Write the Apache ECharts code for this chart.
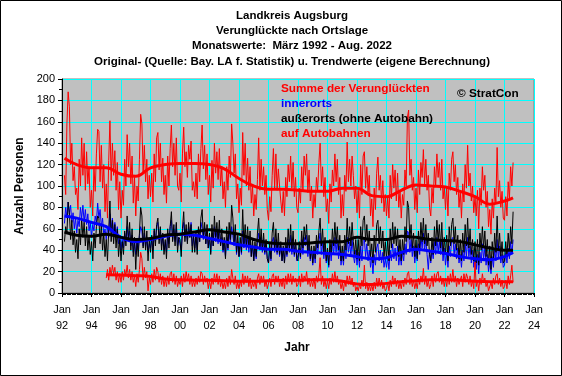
<!DOCTYPE html>
<html>
<head>
<meta charset="utf-8">
<script src="https://cdn.jsdelivr.net/npm/echarts@6/dist/echarts.min.js"></script>
<style>
  html, body { margin: 0; padding: 0; background: #fff; }
  #chart { width: 562px; height: 376px; }
</style>
</head>
<body>
<div id="chart"></div>
<script>
// Monatswerte ab März 1992 (Summe, innerorts, außerorts), Autobahn ab Jan. 1995
const startYear = 1992;
const startMonth = 2; // März
const autobahnStart = 1995;

const summe = [
  110, 92, 158, 188, 174, 120, 140, 105, 118, 92,
  98, 78, 125, 100, 145, 110, 140, 96, 132, 102, 118, 80,
  96, 72, 118, 95, 130, 153, 151, 104, 138, 98, 120, 76,
  102, 70, 124, 161, 105, 140, 110, 133, 96, 122, 78, 104,
  70, 96, 82, 125, 100, 148, 118, 140, 102, 128, 84, 108,
  72, 100, 86, 125, 167, 158, 112, 138, 104, 125, 88, 110,
  90, 112, 85, 130, 104, 145, 150, 115, 140, 104, 126, 92,
  110, 84, 128, 100, 135, 157, 118, 140, 110, 145, 100, 96,
  112, 85, 130, 155, 118, 132, 108, 138, 125, 142, 96, 104,
  90, 112, 88, 130, 104, 135, 157, 116, 138, 106, 130, 92,
  110, 85, 124, 98, 140, 112, 132, 106, 135, 100, 118, 88,
  104, 80, 118, 96, 128, 108, 158, 140, 112, 130, 88, 102,
  75, 98, 82, 150, 110, 140, 100, 126, 96, 118, 84, 100,
  72, 92, 78, 106, 145, 96, 125, 100, 118, 92, 110, 78,
  68, 90, 76, 110, 135, 98, 130, 96, 116, 100, 86, 75,
  95, 72, 108, 90, 120, 104, 128, 98, 122, 90, 108, 80,
  75, 98, 84, 118, 96, 128, 110, 130, 94, 115, 86, 100,
  70, 92, 80, 108, 96, 122, 140, 100, 118, 90, 108, 76,
  88, 65, 102, 85, 115, 100, 130, 104, 125, 92, 108, 70,
  92, 72, 110, 95, 141, 104, 125, 100, 128, 110, 88, 100,
  75, 96, 70, 120, 92, 128, 132, 98, 118, 94, 110, 72,
  88, 62, 98, 78, 112, 127, 96, 110, 84, 105, 76, 92,
  72, 90, 70, 110, 88, 120, 98, 115, 86, 112, 80, 96,
  70, 92, 82, 115, 100, 164, 171, 110, 125, 96, 108, 78,
  98, 75, 115, 92, 122, 108, 134, 102, 125, 96, 110, 80,
  72, 98, 84, 118, 100, 130, 108, 122, 96, 125, 88, 100,
  78, 100, 72, 112, 96, 125, 132, 104, 120, 92, 108, 80,
  96, 70, 102, 85, 120, 98, 138, 100, 112, 86, 100, 75,
  90, 72, 96, 60, 98, 82, 118, 96, 110, 80, 95, 62,
  78, 55, 88, 70, 98, 84, 136, 90, 105, 80, 95, 70,
  68, 90, 72, 104, 88, 118, 100, 122
];

const innerorts = [
  65, 80, 70, 85, 74, 82, 66, 75, 60, 70,
  56, 68, 62, 80, 70, 82, 66, 78, 64, 74, 58, 66,
  52, 64, 58, 72, 66, 84, 70, 78, 62, 70, 54, 60,
  50, 62, 52, 74, 60, 70, 56, 66, 52, 62, 46, 54,
  40, 50, 42, 56, 48, 62, 50, 58, 44, 54, 38, 48,
  36, 48, 40, 54, 62, 58, 44, 56, 42, 52, 38, 46,
  42, 52, 40, 58, 48, 62, 66, 50, 60, 44, 54, 40,
  48, 38, 56, 46, 62, 68, 50, 60, 48, 64, 44, 52,
  46, 40, 58, 66, 52, 60, 48, 62, 52, 66, 44, 54,
  42, 54, 40, 60, 48, 66, 60, 50, 62, 46, 58, 42,
  50, 38, 56, 44, 62, 48, 58, 46, 60, 44, 52, 38,
  46, 34, 52, 40, 58, 46, 62, 54, 44, 56, 36, 48,
  34, 46, 36, 58, 42, 54, 40, 52, 38, 50, 34, 44,
  30, 42, 32, 48, 56, 40, 52, 38, 50, 36, 46, 32,
  28, 40, 30, 48, 52, 38, 50, 36, 48, 34, 44, 30,
  40, 28, 44, 34, 50, 38, 54, 36, 50, 34, 46, 30,
  30, 42, 32, 50, 36, 52, 44, 54, 34, 46, 30, 40,
  26, 38, 28, 46, 36, 48, 56, 36, 48, 32, 44, 28,
  36, 24, 42, 30, 48, 36, 52, 38, 50, 32, 44, 26,
  36, 26, 44, 32, 52, 38, 48, 34, 50, 36, 28, 40,
  26, 38, 24, 44, 30, 48, 50, 34, 46, 30, 40, 24,
  34, 18, 36, 26, 42, 46, 30, 40, 28, 38, 24, 32,
  24, 34, 22, 40, 30, 46, 32, 42, 30, 44, 26, 36,
  26, 38, 30, 46, 36, 58, 56, 38, 50, 34, 44, 28,
  40, 30, 46, 36, 52, 42, 56, 40, 50, 36, 22, 40,
  28, 40, 32, 48, 36, 52, 38, 48, 36, 50, 30, 42,
  26, 38, 24, 44, 34, 50, 52, 36, 46, 32, 42, 28,
  36, 24, 40, 30, 46, 34, 52, 34, 44, 28, 40, 24,
  34, 22, 36, 18, 38, 28, 46, 32, 42, 26, 36, 20,
  30, 18, 34, 24, 42, 30, 50, 32, 44, 28, 36, 24,
  26, 38, 28, 42, 32, 48, 36, 50
];

const ausserorts = [
  48, 62, 55, 85, 75, 50, 68, 45, 58, 38,
  50, 32, 60, 45, 70, 52, 66, 44, 62, 40, 54, 36,
  48, 30, 56, 42, 62, 72, 70, 46, 64, 40, 56, 34,
  50, 30, 58, 86, 48, 68, 46, 64, 42, 60, 34, 50,
  30, 48, 36, 58, 44, 72, 50, 66, 40, 60, 34, 52,
  22, 50, 34, 56, 80, 72, 42, 62, 40, 58, 30, 50,
  38, 54, 32, 60, 44, 64, 70, 46, 62, 40, 56, 36,
  50, 32, 60, 42, 62, 76, 48, 64, 44, 66, 38, 52,
  50, 34, 60, 76, 48, 64, 46, 66, 52, 64, 38, 54,
  38, 56, 36, 62, 48, 70, 78, 52, 66, 46, 64, 42,
  56, 36, 64, 44, 72, 52, 66, 48, 68, 44, 60, 40,
  52, 32, 62, 42, 66, 50, 82, 70, 48, 64, 38, 54,
  34, 52, 38, 78, 46, 64, 44, 62, 42, 58, 34, 50,
  30, 48, 34, 56, 70, 42, 60, 40, 56, 38, 50, 32,
  28, 46, 32, 56, 66, 42, 60, 38, 56, 36, 48, 30,
  44, 28, 52, 36, 60, 42, 64, 40, 58, 36, 50, 32,
  30, 48, 34, 58, 42, 62, 50, 64, 38, 54, 32, 44,
  28, 44, 32, 54, 42, 58, 70, 44, 60, 38, 52, 30,
  42, 26, 50, 36, 60, 44, 66, 46, 62, 40, 54, 30,
  44, 30, 54, 40, 70, 46, 62, 44, 66, 48, 36, 50,
  32, 50, 30, 62, 44, 68, 72, 48, 64, 44, 58, 34,
  46, 28, 54, 38, 64, 68, 46, 62, 42, 58, 34, 48,
  32, 50, 30, 60, 42, 66, 46, 62, 44, 60, 34, 50,
  30, 50, 36, 62, 48, 86, 80, 50, 64, 42, 56, 34,
  50, 32, 58, 40, 66, 48, 70, 46, 64, 44, 56, 36,
  30, 52, 36, 62, 44, 68, 48, 64, 42, 66, 36, 52,
  36, 54, 30, 62, 44, 64, 70, 46, 62, 40, 54, 32,
  50, 30, 56, 38, 64, 44, 70, 42, 60, 36, 50, 30,
  48, 28, 50, 26, 56, 40, 62, 42, 58, 34, 50, 26,
  44, 22, 48, 32, 56, 38, 72, 40, 56, 34, 48, 28,
  30, 48, 34, 56, 40, 62, 46, 76
];

const autobahn = [
  14, 22, 12, 24, 16, 26, 18, 24, 12, 20, 10, 18,
  10, 20, 12, 22, 16, 26, 14, 22, 12, 20, 10, 16,
  6, 18, 10, 22, 38, 32, 12, 24, 14, 20, 2, 14,
  8, 18, 10, 22, 12, 24, 20, 10, 18, 8, 16, 6,
  14, 6, 16, 8, 18, 20, 10, 18, 8, 16, 6, 12,
  8, 16, 6, 18, 10, 20, 12, 18, 8, 16, 6, 12,
  6, 14, 8, 16, 10, 20, 18, 8, 16, 10, 14, 4,
  12, 4, 14, 8, 18, 10, 18, 8, 16, 6, 12, 4,
  10, 4, 14, 6, 16, 8, 22, 14, 8, 16, 4, 10,
  4, 12, 6, 18, 8, 16, 10, 16, 6, 14, 4, 10,
  6, 12, 4, 14, 18, 8, 16, 10, 16, 6, 12, 4,
  4, 14, 6, 16, 18, 8, 16, 10, 16, 6, 12, 6,
  14, 4, 16, 8, 18, 10, 18, 8, 16, 10, 14, 6,
  8, 16, 6, 18, 10, 16, 12, 20, 8, 14, 6, 12,
  6, 14, 4, 16, 10, 18, 33, 8, 16, 6, 12, 4,
  12, 4, 14, 8, 18, 10, 20, 10, 16, 8, 12, 4,
  10, 2, 12, 6, 16, 8, 16, 8, 14, 6, 10, 2,
  6, 2, 8, 4, 12, 6, 26, 4, 10, 2, 8, 2,
  8, 2, 10, 4, 14, 6, 14, 6, 12, 4, 8, 2,
  4, 10, 2, 12, 6, 16, 8, 14, 6, 12, 4, 10,
  4, 12, 6, 14, 8, 18, 20, 8, 14, 6, 12, 4,
  10, 4, 14, 8, 16, 10, 23, 8, 16, 6, 12, 4,
  8, 16, 6, 18, 10, 18, 20, 10, 16, 8, 14, 6,
  14, 6, 16, 8, 18, 10, 22, 10, 16, 6, 14, 8,
  8, 16, 6, 18, 10, 18, 14, 8, 16, 6, 12, 4,
  29, 6, 12, 2, 14, 8, 18, 10, 14, 6, 10, 2,
  2, 10, 4, 14, 8, 16, 18, 8, 14, 6, 12, 4,
  6, 12, 4, 16, 8, 16, 26, 10
];

const trendYears = [1992.17, 1993, 1994, 1995, 1996, 1997, 1998, 1999, 2000, 2001,
  2002, 2003, 2004, 2005, 2006, 2007, 2008, 2009, 2010, 2011, 2012, 2013, 2014,
  2015, 2016, 2017, 2018, 2019, 2020, 2021, 2022, 2022.58];
const trendSumme = [126, 120, 117, 117, 111, 109, 117, 120, 121, 121,
  120, 116, 107, 100, 97, 97, 96, 95, 95, 98, 98, 91, 90,
  96, 101, 100, 99, 95, 90, 83, 86, 89];
const trendInnerorts = [72, 70, 66, 62, 52, 48, 50, 53, 55, 54,
  51, 48, 45, 43, 41, 41, 39, 38, 37, 36, 34, 32, 33,
  38, 41, 39, 37, 34, 32, 31, 34, 38];
const trendAusserorts = [57, 54, 53, 55, 52, 50, 51, 54, 55, 57,
  59, 57, 55, 50, 47, 46, 46, 47, 48, 48, 52, 50, 50,
  53, 52, 50, 49, 48, 45, 42, 40, 40];
const trendAutobahn = [null, null, null, 17, 16.8, 16.2, 15.5, 13, 12.3, 12,
  11.8, 11.5, 11, 11, 11.5, 12, 12, 12.5, 12.5, 11, 8.5, 8, 9,
  10.5, 11.5, 12.5, 12.5, 12, 11, 10.5, 10.5, 10.5];

const legendTexts = [
  ["Summe der Verunglückten", "#ff0000"],
  ["innerorts", "#0000ff"],
  ["außerorts (ohne Autobahn)", "#000000"],
  ["auf Autobahnen", "#ff0000"],
];
const titleLines = [
  "Landkreis Augsburg",
  "Verunglückte nach Ortslage",
  "Monatswerte:  März 1992 - Aug. 2022",
  "Original- (Quelle: Bay. LA f. Statistik) u. Trendwerte (eigene Berechnung)",
];

const FONT = "Liberation Sans, Arial, sans-serif";

const monthly = (arr, y0, m0) => arr.map((v, i) => [y0 + (m0 + i) / 12, v]);
const trend = (arr) => trendYears.map((y, i) => [y, arr[i]]);

const thin = (name, data, color) => ({
  name, type: "line", data, symbol: "none", silent: true,
  lineStyle: { color, width: 1 }, z: 2,
});
const thick = (name, data, color) => ({
  name, type: "line", data, symbol: "none", silent: true, smooth: 0.4,
  connectNulls: false, lineStyle: { color, width: 3 }, z: 3,
});

const graphics = [
  {
    type: "rect", z: 100, silent: true,
    shape: { x: 0.5, y: 0.5, width: 561, height: 375 },
    style: { fill: "none", stroke: "#000", lineWidth: 1 },
  },
];
titleLines.forEach((t, i) => {
  graphics.push({
    type: "text", x: 292, y: 15.5 + i * 15.3, z: 100,
    style: { text: t, font: "bold 11.5px " + FONT, fill: "#000", textAlign: "center", textVerticalAlign: "middle" },
  });
});
legendTexts.forEach((l, i) => {
  graphics.push({
    type: "text", x: 281, y: 89 + i * 15, z: 100,
    style: { text: l[0], font: "bold 11.8px " + FONT, fill: l[1], textAlign: "left", textVerticalAlign: "middle" },
  });
});
graphics.push({
  type: "text", x: 457, y: 94, z: 100,
  style: { text: "© StratCon", font: "bold 11.8px " + FONT, fill: "#000", textAlign: "left", textVerticalAlign: "middle" },
});
graphics.push({
  type: "text", x: 297, y: 348, z: 100,
  style: { text: "Jahr", font: "bold 12px " + FONT, fill: "#000", textAlign: "center", textVerticalAlign: "middle" },
});

const option = {
  animation: false,
  backgroundColor: "#fff",
  grid: {
    left: 62, top: 79, width: 472, height: 214,
    show: true, backgroundColor: "#c0c0c0", borderColor: "#808080", borderWidth: 1,
  },
  xAxis: {
    type: "value", min: 1992, max: 2024, interval: 2,
    axisLine: { lineStyle: { color: "#000", width: 1 } },
    axisTick: { length: 4, lineStyle: { color: "#000" } },
    minorTick: { show: true, splitNumber: 24, length: 2, lineStyle: { color: "#000" } },
    splitLine: { show: true, lineStyle: { color: "#00ffff", width: 1 } },
    axisLabel: {
      color: "#000", fontFamily: FONT, fontSize: 11, lineHeight: 16, margin: 9,
      formatter: (v) => "Jan\n" + String(v).slice(2),
    },
  },
  yAxis: {
    type: "value", min: 0, max: 200, interval: 20,
    name: "Anzahl Personen", nameLocation: "middle", nameGap: 33,
    nameTextStyle: { color: "#000", fontFamily: FONT, fontSize: 12, fontWeight: "bold" },
    axisLine: { show: true, lineStyle: { color: "#000", width: 1 } },
    axisTick: { show: true, length: 4, lineStyle: { color: "#000" } },
    minorTick: { show: true, splitNumber: 2, length: 3, lineStyle: { color: "#000" } },
    splitLine: { show: true, lineStyle: { color: "#00ffff", width: 1 } },
    axisLabel: { color: "#000", fontFamily: FONT, fontSize: 11, margin: 7 },
  },
  series: [
    thin("Summe", monthly(summe, startYear, startMonth), "#ff0000"),
    thin("innerorts", monthly(innerorts, startYear, startMonth), "#0000ff"),
    thin("außerorts", monthly(ausserorts, startYear, startMonth), "#000000"),
    thin("Autobahn", monthly(autobahn, autobahnStart, 0), "#ff0000"),
    thick("Trend Summe", trend(trendSumme), "#ff0000"),
    thick("Trend innerorts", trend(trendInnerorts), "#0000ff"),
    thick("Trend außerorts", trend(trendAusserorts), "#000000"),
    thick("Trend Autobahn", trend(trendAutobahn), "#ff0000"),
  ],
  graphic: graphics,
};

const chart = echarts.init(document.getElementById("chart"), null, { renderer: "canvas" });
chart.setOption(option);
</script>
</body>
</html>
